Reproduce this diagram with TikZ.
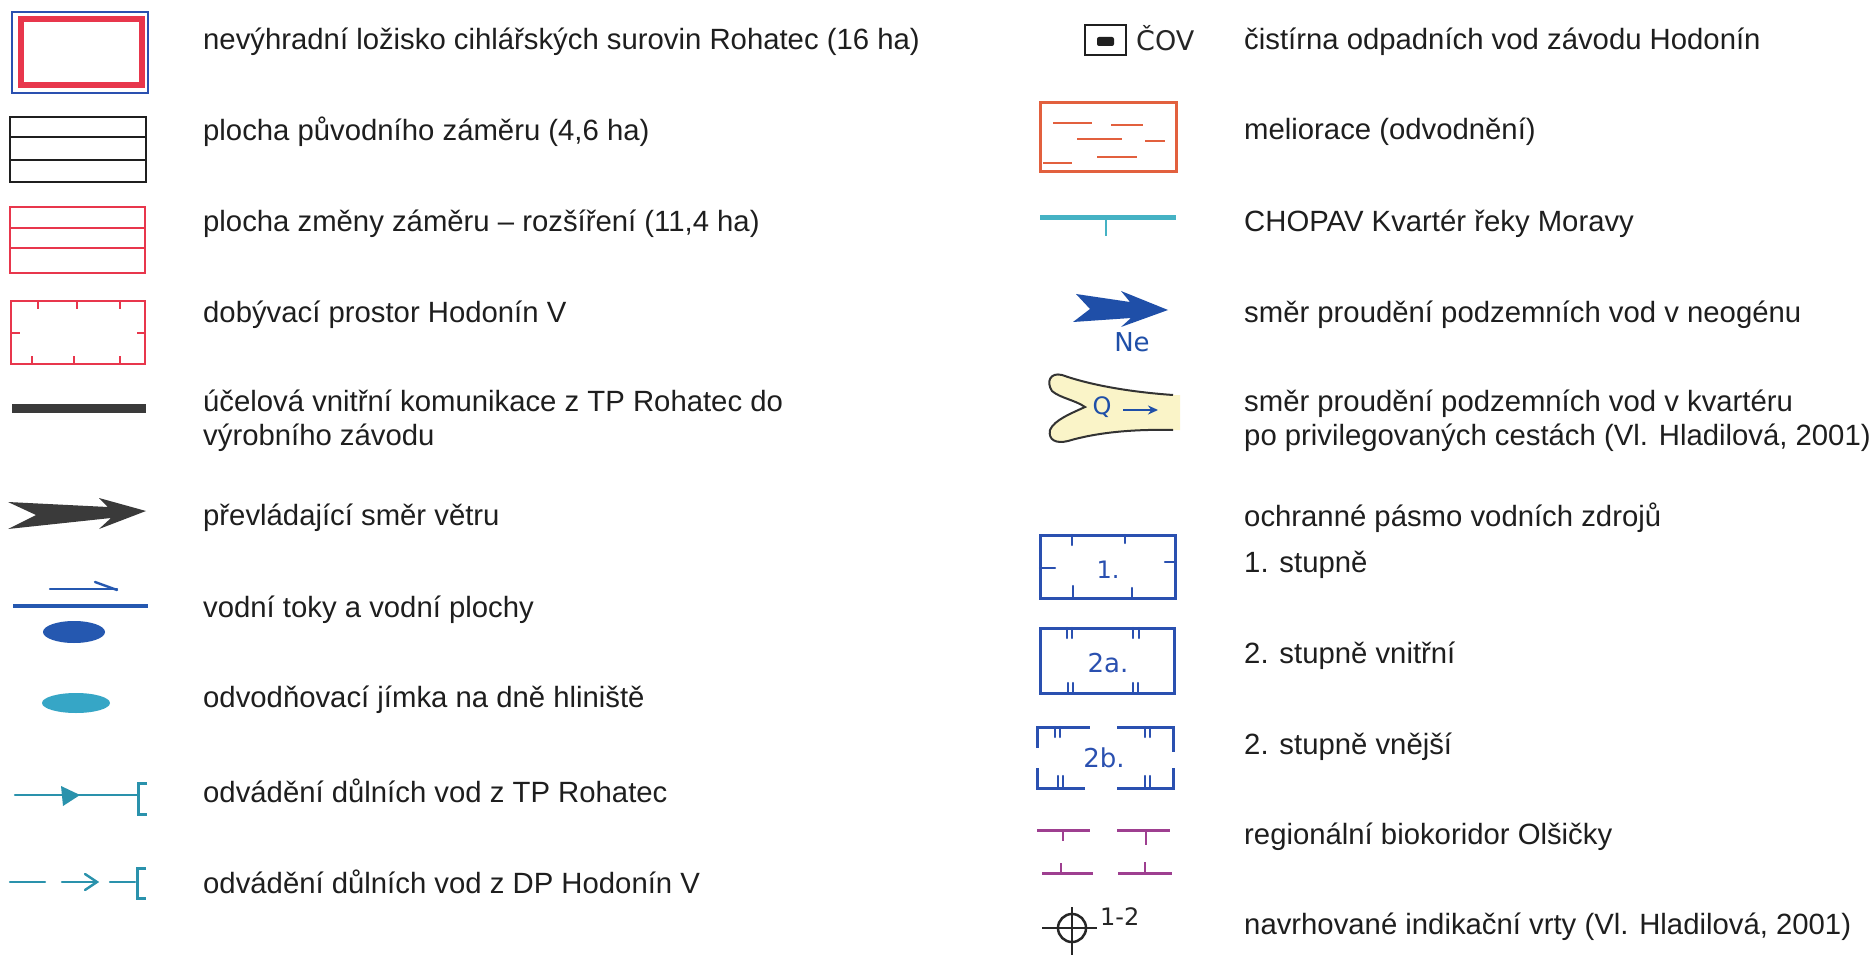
\documentclass[tikz,border=0pt]{standalone}
\usepackage{fontspec}
\setmainfont{Liberation Sans}
\newfontfamily\handfont{DejaVu Sans}
\usetikzlibrary{arrows.meta}

\definecolor{txt}{HTML}{1E1E1E}
\definecolor{zblue}{HTML}{2A50B0}
\definecolor{lred}{HTML}{E8364C}
\definecolor{roadgray}{HTML}{3A3A3A}
\definecolor{wblue}{HTML}{2558B0}
\definecolor{jteal}{HTML}{36A6C6}
\definecolor{dteal}{HTML}{2A92AC}
\definecolor{chteal}{HTML}{45B2C4}
\definecolor{melor}{HTML}{E2603E}
\definecolor{nblue}{HTML}{1F4FA8}
\definecolor{paleyel}{HTML}{FAF4C8}
\definecolor{bio}{HTML}{9E3F90}

\tikzset{
  lbl/.style={anchor=west, inner sep=0pt, text=txt, align=left,
              font=\fontsize{29.3}{34}\selectfont},
  hand/.style={inner sep=0pt, font=\handfont\fontsize{24}{24}\selectfont},
  pen/.style={line width=2.4pt, line cap=round},
}

\begin{document}
\begin{tikzpicture}[x=1pt,y=-1pt]
\useasboundingbox (0,0) rectangle (1876,957);
\fill[white] (0,0) rectangle (1876,957);

% ---------------- left column: symbols ----------------
% deposit of brick raw materials
\draw[zblue, line width=2.6pt] (12,12) rectangle (148,93);
\draw[lred, line width=5.5pt] (21,19) rectangle (142,85);

% original extent
\draw[black!88, line width=2.7pt] (10,117) rectangle (146,182);
\draw[black!88, line width=2.7pt] (10,137) -- (146,137) (10,160) -- (146,160);

% extension
\draw[lred, line width=2.4pt] (10,207) rectangle (145,273);
\draw[lred, line width=2.4pt] (10,228) -- (145,228) (10,248) -- (145,248);

% mining area
\draw[lred, line width=2.4pt] (11,301) rectangle (145,364);
\foreach \t in {38,77,120} \draw[lred, line width=2pt] (\t,301) -- (\t,309);
\foreach \t in {32,74,120} \draw[lred, line width=2pt] (\t,364) -- (\t,356);
\draw[lred, line width=2pt] (11,333) -- (20,333) (145,333) -- (137,333);

% internal road
\draw[roadgray, line width=9pt] (12,408) -- (146,408);

% prevailing wind
\fill[roadgray] (8,502) -- (108,507) -- (99,498) -- (146,511) -- (99,529)
  -- (111,518) -- (8,529) -- (36,515) -- cycle;

% watercourses and water bodies
\draw[wblue, pen] (50,589) -- (117,589);
\draw[wblue, pen] (95,582) -- (117,590);
\draw[wblue, line width=4.5pt] (13,606) -- (148,606);
\fill[wblue] (74,632) ellipse [x radius=31pt, y radius=11pt];

% drainage sump
\fill[jteal] (76,703) ellipse [x radius=34pt, y radius=10pt];

% mine water drainage, TP Rohatec
\draw[dteal, pen] (15,795) -- (138,795);
\fill[dteal] (61,786) -- (80,795) -- (63,806) -- cycle;
\draw[dteal, line width=3pt] (147,783) -- (138,783) -- (138,814) -- (147,814);

% mine water drainage, DP Hodonin V
\draw[dteal, pen] (10,882) -- (45,882) (62,882) -- (96,882) (110,882) -- (135,882);
\draw[dteal, pen] (85,874) -- (97,882) -- (85,890);
\draw[dteal, line width=3pt] (146,868) -- (137,868) -- (137,898) -- (146,898);

% ---------------- left column: labels ----------------
\node[lbl] (l1) at (203,42) {nevýhradní ložisko cihlářských surovin Rohatec (16 ha)};
\node[lbl] (l2) at (203,132) {plocha původního záměru (4,6 ha)};
\node[lbl] (l3) at (203,224) {plocha změny záměru – rozšíření (11,4 ha)};
\node[lbl] (l4) at (203,315) {dobývací prostor Hodonín V};
\node[lbl] (l5) at (203,421) {účelová vnitřní komunikace z TP Rohatec do\\výrobního závodu};
\node[lbl] (l6) at (203,518) {převládající směr větru};
\node[lbl] (l7) at (203,610) {vodní toky a vodní plochy};
\node[lbl] (l8) at (203,700) {odvodňovací jímka na dně hliniště};
\node[lbl] (l9) at (203,791) {odvádění důlních vod z TP Rohatec};
\node[lbl] (l10) at (203,882) {odvádění důlních vod z DP Hodonín V};

% ---------------- right column: symbols ----------------
% wastewater treatment plant
\draw[black!88, line width=2.6pt] (1085,25) rectangle (1126,55);
\fill[black!88, rounded corners=2pt] (1097,37) rectangle (1114,46);
\node[hand, anchor=west, text=black!85, font=\handfont\fontsize{27}{27}\selectfont] (cov) at (1136,38) {ČOV};

% land drainage
\draw[melor, line width=3pt] (1040,103) rectangle (1176,172);
\draw[melor, line width=2.4pt] (1053,123) -- (1092,123) (1111,125) -- (1143,125)
  (1077,139) -- (1122,139) (1145,141) -- (1165,141)
  (1097,157) -- (1137,157) (1043,163) -- (1072,163);

% protected area of natural water accumulation
\draw[chteal, line width=5pt] (1040,218) -- (1176,218);
\draw[chteal, line width=2.4pt] (1106,218) -- (1106,236);

% groundwater flow in Neogene
\fill[nblue] (1076,294) -- (1130,302) -- (1121,291) -- (1168,310) -- (1121,327)
  -- (1131,318) -- (1073,322) -- (1090,309) -- cycle;
\node[hand, text=nblue, font=\handfont\fontsize{26}{26}\selectfont] (ne) at (1132,342) {Ne};

% groundwater flow in Quaternary along preferential paths
\fill[paleyel] (1180,395) -- (1173,395)
  .. controls (1130,392) and (1090,385) .. (1062,375)
  .. controls (1050,372) and (1046,382) .. (1052,391)
  .. controls (1060,398) and (1075,400) .. (1085,407)
  .. controls (1072,413) and (1054,420) .. (1050,430)
  .. controls (1048,440) and (1056,444) .. (1068,441)
  .. controls (1095,433) and (1130,429) .. (1173,430) -- (1180,430) -- cycle;
\draw[black!80, line width=2pt] (1173,395)
  .. controls (1130,392) and (1090,385) .. (1062,375)
  .. controls (1050,372) and (1046,382) .. (1052,391)
  .. controls (1060,398) and (1075,400) .. (1085,407)
  .. controls (1072,413) and (1054,420) .. (1050,430)
  .. controls (1048,440) and (1056,444) .. (1068,441)
  .. controls (1095,433) and (1130,429) .. (1173,430);
\node[hand, text=nblue, font=\handfont\fontsize{24}{24}\selectfont] (q) at (1102,407) {Q};
\coordinate (qa) at (1123,410);
\coordinate (qb) at (1158,410);
\draw[nblue, line width=2.4pt, -{Stealth[length=10pt,width=9pt]}] (qa) -- (qb);

% water source protection zone, 1st degree
\draw[zblue, line width=3pt] (1040,535) rectangle (1175,598);
\draw[zblue, pen] (1072,535) -- (1072,545) (1125,535) -- (1125,543)
  (1073,598) -- (1073,586) (1132,598) -- (1132,588)
  (1040,568) -- (1055,568) (1175,562) -- (1165,562);
\node[hand, text=zblue] (z1) at (1108,570) {1.};

% 2nd degree, inner
\draw[zblue, line width=3pt] (1040,628) rectangle (1174,693);
\draw[zblue, pen] (1067,628) -- (1067,638) (1072,628) -- (1072,638)
  (1133,628) -- (1133,638) (1139,628) -- (1139,638)
  (1068,693) -- (1068,683) (1073,693) -- (1073,683)
  (1133,693) -- (1133,683) (1138,693) -- (1138,683);
\node[hand, text=zblue, font=\handfont\fontsize{26}{26}\selectfont] (z2a) at (1108,663) {2a.};

% 2nd degree, outer
\draw[zblue, line width=3pt] (1037,748) -- (1037,727) -- (1090,727)
  (1117,727) -- (1173,727) -- (1173,752)
  (1037,768) -- (1037,788) -- (1085,788)
  (1117,788) -- (1173,788) -- (1173,768);
\draw[zblue, pen] (1055,727) -- (1055,737) (1060,727) -- (1060,737)
  (1145,727) -- (1145,737) (1150,727) -- (1150,737)
  (1058,788) -- (1058,776) (1063,788) -- (1063,776)
  (1145,788) -- (1145,776) (1150,788) -- (1150,776);
\node[hand, text=zblue, font=\handfont\fontsize{26}{26}\selectfont] (z2b) at (1104,758) {2b.};

% regional biocorridor
\draw[bio, line width=3pt] (1037,830) -- (1090,830) (1117,830) -- (1170,830)
  (1042,873) -- (1093,873) (1118,873) -- (1172,873);
\draw[bio, line width=2.4pt] (1063,830) -- (1063,841) (1146,830) -- (1146,845)
  (1061,873) -- (1061,863) (1145,873) -- (1145,862);

% proposed indication boreholes
\draw[black!85, line width=2.5pt] (1072,928) circle [radius=14pt];
\draw[black!85, line width=2.2pt] (1042,928) -- (1097,928) (1072,907) -- (1072,955);
\node[hand, anchor=west, text=black!85, font=\handfont\fontsize{24}{24}\selectfont] (vrt) at (1100,917) {1-2};

% ---------------- right column: labels ----------------
\node[lbl] (r1) at (1244,42) {čistírna odpadních vod závodu Hodonín};
\node[lbl] (r2) at (1244,132) {meliorace (odvodnění)};
\node[lbl] (r3) at (1244,224) {CHOPAV Kvartér řeky Moravy};
\node[lbl] (r4) at (1244,315) {směr proudění podzemních vod v neogénu};
\node[lbl] (r5) at (1244,421) {směr proudění podzemních vod v kvartéru\\po privilegovaných cestách (Vl. Hladilová, 2001)};
\node[lbl] (r6) at (1244,518) {ochranné pásmo vodních zdrojů};
\node[lbl] (r7) at (1244,565) {1. stupně};
\node[lbl] (r8) at (1244,656) {2. stupně vnitřní};
\node[lbl] (r9) at (1244,747) {2. stupně vnější};
\node[lbl] (r10) at (1244,837) {regionální biokoridor Olšičky};
\node[lbl] (r11) at (1244,927) {navrhované indikační vrty (Vl. Hladilová, 2001)};
\end{tikzpicture}
\end{document}
